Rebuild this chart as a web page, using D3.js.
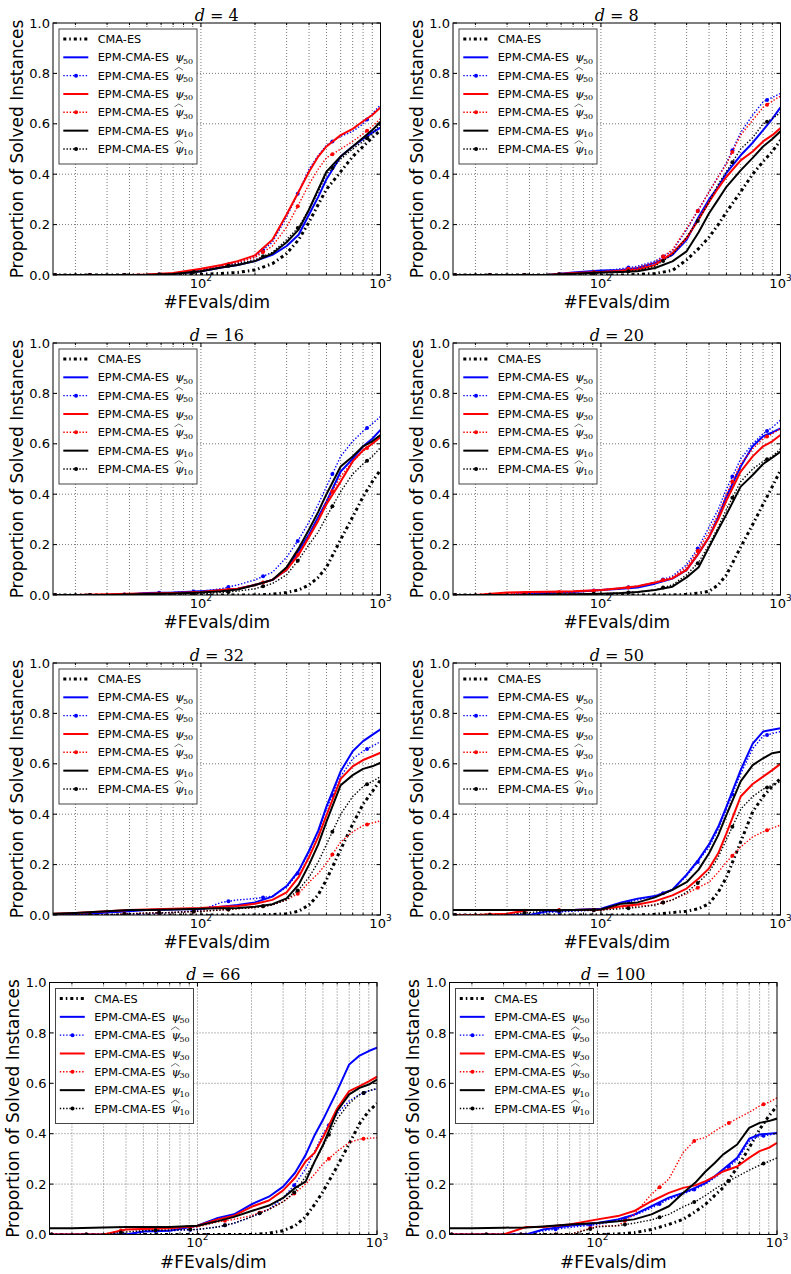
<!DOCTYPE html>
<html>
<head>
<meta charset="utf-8">
<script src="https://cdn.jsdelivr.net/npm/d3@7"></script>
<style>
  body { margin: 0; background: #fff; }
  svg { display: block; }
</style>
</head>
<body>
<svg id="chart" width="791" height="1274"></svg>
<script>
// FEvals/dim sample points shared by all curves
const fevals = [15, 20, 30, 40, 50, 70, 100, 130, 160, 200, 250, 300, 350, 400, 450, 500, 600, 700, 800, 900, 1000];

// one panel per problem dimension
const dims = [4, 8, 16, 20, 32, 50, 66, 100];

// proportion of solved instances, one row per panel (same order as dims)
const cmaEs = [
  [0,0,0,0,0,0,0.003,0.006,0.01,0.02,0.045,0.085,0.14,0.21,0.28,0.34,0.41,0.47,0.51,0.545,0.575],
  [0,0,0,0,0,0,0,0,0.002,0.006,0.018,0.06,0.105,0.15,0.2,0.25,0.33,0.4,0.45,0.49,0.535],
  [0,0,0,0,0,0,0,0,0,0,0.003,0.01,0.02,0.04,0.07,0.11,0.22,0.31,0.39,0.45,0.496],
  [0,0,0,0,0,0,0,0,0,0,0,0.002,0.008,0.015,0.04,0.08,0.19,0.28,0.36,0.43,0.495],
  [0,0,0,0,0,0,0,0,0,0,0.002,0.005,0.015,0.04,0.08,0.14,0.26,0.36,0.44,0.49,0.536],
  [0,0,0,0,0,0,0,0,0,0.002,0.01,0.015,0.025,0.045,0.09,0.15,0.29,0.41,0.47,0.51,0.542],
  [0,0,0,0,0,0,0,0,0,0,0.005,0.015,0.035,0.07,0.12,0.17,0.27,0.36,0.44,0.49,0.52],
  [0,0,0,0,0,0,0,0.002,0.007,0.02,0.04,0.06,0.09,0.12,0.155,0.185,0.265,0.344,0.417,0.47,0.51]
];
const psi50 = [
  [0,0,0,0,0,0.005,0.015,0.03,0.04,0.055,0.08,0.115,0.16,0.24,0.31,0.38,0.47,0.51,0.54,0.565,0.585],
  [0,0,0,0,0,0.01,0.018,0.02,0.028,0.048,0.08,0.14,0.23,0.3,0.35,0.405,0.475,0.525,0.575,0.62,0.665],
  [0,0,0,0.003,0.008,0.01,0.015,0.02,0.025,0.04,0.06,0.1,0.175,0.24,0.31,0.37,0.49,0.54,0.59,0.62,0.655],
  [0,0,0,0.005,0.008,0.012,0.02,0.025,0.03,0.045,0.065,0.1,0.165,0.23,0.31,0.39,0.51,0.59,0.63,0.645,0.661],
  [0,0,0.01,0.015,0.02,0.022,0.025,0.033,0.04,0.05,0.073,0.115,0.175,0.255,0.335,0.43,0.57,0.65,0.69,0.715,0.737],
  [0,0,0,0,0.015,0.02,0.025,0.05,0.065,0.075,0.1,0.16,0.22,0.28,0.35,0.43,0.575,0.68,0.728,0.735,0.741],
  [0,0,0,0,0.012,0.015,0.035,0.066,0.08,0.12,0.15,0.19,0.245,0.315,0.395,0.455,0.57,0.675,0.71,0.728,0.741],
  [0,0,0,0,0.02,0.035,0.046,0.06,0.079,0.112,0.146,0.165,0.185,0.205,0.231,0.258,0.304,0.38,0.397,0.4,0.403]
];
const psi50Hat = [
  [0,0,0,0,0,0.005,0.02,0.035,0.05,0.072,0.13,0.23,0.33,0.42,0.475,0.515,0.55,0.57,0.6,0.64,0.675],
  [0,0,0,0,0,0.008,0.015,0.025,0.035,0.055,0.095,0.18,0.26,0.33,0.39,0.445,0.565,0.635,0.687,0.705,0.72],
  [0,0,0,0.003,0.008,0.01,0.015,0.025,0.04,0.06,0.09,0.15,0.22,0.29,0.36,0.43,0.55,0.61,0.65,0.68,0.708],
  [0,0,0,0.005,0.008,0.012,0.02,0.028,0.035,0.05,0.075,0.12,0.19,0.27,0.34,0.42,0.54,0.6,0.64,0.665,0.694],
  [0,0,0,0,0.005,0.01,0.02,0.05,0.06,0.065,0.075,0.11,0.17,0.25,0.33,0.42,0.55,0.62,0.65,0.67,0.688],
  [0,0,0,0,0.01,0.015,0.02,0.045,0.06,0.075,0.1,0.155,0.215,0.27,0.34,0.42,0.56,0.66,0.71,0.72,0.728],
  [0,0,0,0,0.012,0.015,0.02,0.03,0.045,0.07,0.1,0.145,0.2,0.26,0.33,0.4,0.48,0.53,0.555,0.57,0.578],
  [0,0,0,0,0.015,0.028,0.04,0.055,0.075,0.105,0.14,0.16,0.18,0.2,0.225,0.25,0.295,0.37,0.39,0.395,0.4]
];
const psi30 = [
  [0,0,0,0,0.002,0.008,0.025,0.04,0.055,0.078,0.14,0.24,0.33,0.41,0.47,0.51,0.555,0.58,0.61,0.635,0.665],
  [0,0,0,0,0,0.008,0.012,0.016,0.022,0.04,0.087,0.147,0.22,0.29,0.345,0.39,0.455,0.49,0.53,0.555,0.583],
  [0,0,0.003,0.005,0.006,0.008,0.012,0.02,0.025,0.04,0.06,0.1,0.16,0.23,0.295,0.36,0.45,0.53,0.575,0.6,0.628],
  [0,0,0.01,0.012,0.013,0.015,0.02,0.028,0.035,0.05,0.066,0.1,0.165,0.23,0.3,0.375,0.49,0.55,0.59,0.61,0.635],
  [0.005,0.008,0.015,0.02,0.022,0.025,0.028,0.033,0.036,0.045,0.06,0.09,0.15,0.23,0.31,0.395,0.54,0.59,0.615,0.63,0.644],
  [0,0,0.005,0.02,0.02,0.02,0.022,0.035,0.042,0.055,0.078,0.105,0.145,0.185,0.245,0.324,0.47,0.52,0.549,0.575,0.6],
  [0,0,0,0.02,0.022,0.025,0.035,0.06,0.075,0.11,0.135,0.175,0.225,0.29,0.325,0.385,0.5,0.569,0.589,0.608,0.626],
  [0,0,0,0.03,0.03,0.04,0.06,0.073,0.093,0.132,0.165,0.185,0.195,0.212,0.231,0.25,0.27,0.304,0.331,0.344,0.364]
];
const psi30Hat = [
  [0,0,0,0,0,0.005,0.02,0.035,0.05,0.07,0.115,0.19,0.28,0.36,0.42,0.465,0.5,0.53,0.56,0.59,0.62],
  [0,0,0,0,0,0.006,0.012,0.02,0.03,0.05,0.1,0.185,0.26,0.33,0.39,0.44,0.555,0.615,0.665,0.69,0.71],
  [0,0,0,0.003,0.005,0.007,0.01,0.018,0.025,0.04,0.06,0.1,0.165,0.235,0.3,0.37,0.47,0.53,0.57,0.6,0.625],
  [0,0,0.005,0.008,0.01,0.012,0.018,0.025,0.035,0.05,0.07,0.11,0.18,0.25,0.32,0.4,0.52,0.58,0.62,0.64,0.66],
  [0,0,0,0.005,0.008,0.01,0.015,0.02,0.025,0.03,0.04,0.06,0.086,0.13,0.165,0.205,0.29,0.33,0.355,0.365,0.374],
  [0,0,0.005,0.02,0.02,0.02,0.02,0.03,0.035,0.04,0.06,0.085,0.11,0.13,0.17,0.21,0.27,0.31,0.33,0.345,0.357],
  [0,0,0,0.02,0.02,0.025,0.03,0.05,0.06,0.075,0.1,0.13,0.165,0.2,0.24,0.28,0.33,0.365,0.378,0.382,0.384],
  [0,0,0,0,0,0,0.033,0.035,0.08,0.16,0.22,0.325,0.375,0.385,0.41,0.43,0.46,0.485,0.51,0.525,0.542]
];
const psi10 = [
  [0,0,0,0,0,0.004,0.015,0.03,0.04,0.055,0.085,0.13,0.18,0.26,0.34,0.41,0.47,0.51,0.545,0.575,0.608],
  [0,0,0,0,0,0.005,0.01,0.012,0.015,0.028,0.054,0.094,0.17,0.245,0.3,0.35,0.415,0.465,0.51,0.54,0.57],
  [0,0,0,0.002,0.004,0.006,0.01,0.015,0.022,0.04,0.06,0.11,0.185,0.26,0.33,0.4,0.51,0.55,0.59,0.61,0.635],
  [0,0,0,0,0.002,0.003,0.005,0.008,0.012,0.02,0.033,0.07,0.11,0.19,0.26,0.32,0.43,0.476,0.52,0.545,0.569],
  [0.005,0.008,0.015,0.02,0.02,0.022,0.025,0.027,0.028,0.033,0.043,0.066,0.12,0.2,0.28,0.37,0.515,0.555,0.58,0.59,0.604],
  [0.02,0.02,0.02,0.02,0.02,0.02,0.022,0.045,0.05,0.07,0.1,0.13,0.18,0.245,0.317,0.397,0.53,0.595,0.622,0.642,0.648],
  [0.025,0.025,0.028,0.03,0.03,0.03,0.035,0.053,0.07,0.093,0.115,0.145,0.185,0.21,0.29,0.355,0.49,0.556,0.582,0.595,0.615],
  [0.025,0.025,0.027,0.028,0.032,0.04,0.046,0.053,0.06,0.08,0.112,0.165,0.205,0.25,0.284,0.317,0.357,0.423,0.443,0.45,0.46]
];
const psi10Hat = [
  [0,0,0,0,0,0.004,0.015,0.03,0.045,0.06,0.09,0.14,0.19,0.26,0.33,0.4,0.46,0.5,0.53,0.56,0.6],
  [0,0,0,0,0,0.004,0.008,0.012,0.018,0.035,0.08,0.15,0.22,0.29,0.36,0.41,0.5,0.545,0.6,0.62,0.645],
  [0,0,0,0,0.002,0.004,0.005,0.01,0.015,0.025,0.045,0.08,0.14,0.2,0.25,0.31,0.41,0.48,0.52,0.55,0.585],
  [0,0,0,0,0.002,0.003,0.005,0.008,0.012,0.02,0.04,0.08,0.13,0.2,0.27,0.34,0.45,0.5,0.53,0.55,0.58],
  [0,0,0,0.005,0.008,0.01,0.015,0.02,0.025,0.03,0.04,0.06,0.1,0.15,0.21,0.28,0.4,0.47,0.51,0.53,0.549],
  [0,0,0,0.01,0.015,0.018,0.02,0.025,0.03,0.04,0.06,0.09,0.13,0.17,0.23,0.3,0.42,0.47,0.5,0.515,0.529],
  [0,0,0,0.01,0.015,0.018,0.02,0.03,0.045,0.07,0.1,0.13,0.17,0.23,0.29,0.35,0.46,0.52,0.555,0.57,0.58],
  [0,0,0,0,0,0,0.03,0.035,0.045,0.058,0.08,0.11,0.13,0.155,0.18,0.2,0.23,0.255,0.275,0.29,0.304]
];

const yTicks = [0, 0.2, 0.4, 0.6, 0.8, 1.0];
const xMajor = [100, 1000];
const xMinor = [20, 30, 40, 50, 60, 70, 80, 90, 200, 300, 400, 500, 600, 700, 800, 900];

// how each series is drawn (legend order = drawing order)
const series = [
  { label: 'CMA-ES', sub: '', hat: false, color: '#000000', width: 3, dash: '3,3,1.5,3', marker: false, values: cmaEs },
  { label: 'EPM-CMA-ES', sub: '50', hat: false, color: '#0000ff', width: 2, dash: null, marker: false, values: psi50 },
  { label: 'EPM-CMA-ES', sub: '50', hat: true, color: '#0000ff', width: 1.4, dash: '1.4,1.8', marker: true, values: psi50Hat },
  { label: 'EPM-CMA-ES', sub: '30', hat: false, color: '#ff0000', width: 2, dash: null, marker: false, values: psi30 },
  { label: 'EPM-CMA-ES', sub: '30', hat: true, color: '#ff0000', width: 1.4, dash: '1.4,1.8', marker: true, values: psi30Hat },
  { label: 'EPM-CMA-ES', sub: '10', hat: false, color: '#000000', width: 2, dash: null, marker: false, values: psi10 },
  { label: 'EPM-CMA-ES', sub: '10', hat: true, color: '#000000', width: 1.4, dash: '1.4,1.8', marker: true, values: psi10Hat }
];

const svg = d3.select('#chart');
const W = 327.5, H = 252;
const colLeft = [53, 453];
const rowTop = [23, 343, 663, 982.5];
const rowShift = [0, 0, 0, -3.5];
const sans = "'DejaVu Sans', 'Bitstream Vera Sans', sans-serif";
const serif = "'DejaVu Serif', 'Liberation Serif', serif";

const x = d3.scaleLog().domain([15, 1000]).range([0, W]);
const y = d3.scaleLinear().domain([0, 1]).range([H, 0]);

const line = d3.line()
    .x((d, i) => x(fevals[i]))
    .y(d => y(d));

// marker positions along the dotted curves (evenly spaced on the log axis)
const markerX = d3.range(0, 10).map(k => Math.pow(10, 2.925 - 0.193 * k)).filter(v => v >= 15);

function valueAt(vals, xv) {
    const lx = Math.log10(xv);
    for (let i = 0; i < fevals.length - 1; i++) {
        const a = Math.log10(fevals[i]), b = Math.log10(fevals[i + 1]);
        if (lx >= a && lx <= b) {
            const t = (lx - a) / (b - a);
            return vals[i] + t * (vals[i + 1] - vals[i]);
        }
    }
    return vals[vals.length - 1];
}

dims.forEach(function (dim, p) {
    const r = Math.floor(p / 2), c = p % 2;
    const left = colLeft[c] + rowShift[r];
    const top = rowTop[r];
    const g = svg.append('g').attr('transform', `translate(${left},${top})`);

    // grid
    const grid = g.append('g')
        .attr('stroke', '#555')
        .attr('stroke-width', 0.8)
        .attr('stroke-dasharray', '1,2');
    grid.selectAll('line.vx')
        .data(xMinor.concat([100]))
        .enter().append('line')
        .attr('x1', d => x(d)).attr('x2', d => x(d))
        .attr('y1', 0).attr('y2', H);
    grid.selectAll('line.hy')
        .data(yTicks.slice(1, -1))
        .enter().append('line')
        .attr('x1', 0).attr('x2', W)
        .attr('y1', d => y(d)).attr('y2', d => y(d));

    // curves
    const clipId = 'clip' + p;
    g.append('clipPath').attr('id', clipId)
        .append('rect').attr('x', 0).attr('y', 0).attr('width', W).attr('height', H);
    const plot = g.append('g').attr('clip-path', `url(#${clipId})`);

    series.forEach(function (s) {
        const vals = s.values[p];
        plot.append('path')
            .attr('d', line(vals))
            .attr('fill', 'none')
            .attr('stroke', s.color)
            .attr('stroke-width', s.width)
            .attr('stroke-dasharray', s.dash)
            .attr('stroke-linejoin', 'round');
        if (s.marker) {
            plot.selectAll(null)
                .data(markerX)
                .enter().append('circle')
                .attr('cx', d => x(d))
                .attr('cy', d => y(valueAt(vals, d)))
                .attr('r', 2)
                .attr('fill', s.color);
        }
    });

    // frame
    g.append('rect')
        .attr('width', W).attr('height', H)
        .attr('fill', 'none').attr('stroke', '#000').attr('stroke-width', 1);

    // ticks (inside, on all four sides)
    const ticks = g.append('g').attr('stroke', '#000').attr('stroke-width', 1);
    yTicks.forEach(function (v) {
        ticks.append('line').attr('x1', 0).attr('x2', 4).attr('y1', y(v)).attr('y2', y(v));
        ticks.append('line').attr('x1', W - 4).attr('x2', W).attr('y1', y(v)).attr('y2', y(v));
    });
    xMajor.concat(xMinor).forEach(function (v) {
        const len = xMajor.includes(v) ? 4 : 2;
        ticks.append('line').attr('x1', x(v)).attr('x2', x(v)).attr('y1', H).attr('y2', H - len);
        ticks.append('line').attr('x1', x(v)).attr('x2', x(v)).attr('y1', 0).attr('y2', len);
    });

    // tick labels
    g.append('g').selectAll('text')
        .data(yTicks)
        .enter().append('text')
        .attr('x', -3)
        .attr('y', d => y(d))
        .attr('dy', '0.36em')
        .attr('text-anchor', 'end')
        .attr('font-family', sans)
        .attr('font-size', 13)
        .text(d => d3.format('.1f')(d));
    xMajor.forEach(function (v) {
        const t = g.append('text')
            .attr('x', x(v))
            .attr('y', H + 12.5)
            .attr('text-anchor', 'middle')
            .attr('font-family', sans)
            .attr('font-size', 13);
        t.append('tspan').text('10');
        t.append('tspan').attr('dy', -7).attr('font-size', 9).text(String(Math.round(Math.log10(v))));
    });

    // title
    const title = g.append('text')
        .attr('x', W / 2)
        .attr('y', -2.5)
        .attr('text-anchor', 'middle')
        .attr('font-family', serif)
        .attr('font-size', 16);
    title.append('tspan').attr('font-style', 'italic').text('d');
    title.append('tspan').text(' = ' + dim);

    // axis labels
    g.append('text')
        .attr('x', W / 2)
        .attr('y', H + 33)
        .attr('text-anchor', 'middle')
        .attr('font-family', sans)
        .attr('font-size', 17)
        .text('#FEvals/dim');
    g.append('text')
        .attr('transform', `translate(-30.5,${H / 2}) rotate(-90)`)
        .attr('text-anchor', 'middle')
        .attr('font-family', sans)
        .attr('font-size', 17)
        .text('Proportion of Solved Instances');

    // legend
    const lg = g.append('g').attr('transform', 'translate(6,6)');
    lg.append('rect')
        .attr('width', 138).attr('height', 135)
        .attr('fill', '#fff').attr('stroke', '#444').attr('stroke-width', 1);
    series.forEach(function (s, i) {
        const cy = 10 + i * 18.33;
        lg.append('line')
            .attr('x1', 4.3).attr('x2', 29.3)
            .attr('y1', cy).attr('y2', cy)
            .attr('stroke', s.color)
            .attr('stroke-width', s.width)
            .attr('stroke-dasharray', s.dash);
        if (s.marker) {
            lg.append('circle').attr('cx', 17).attr('cy', cy).attr('r', 2).attr('fill', s.color);
        }
        lg.append('text')
            .attr('x', 38.7)
            .attr('y', cy + 4.1)
            .attr('font-family', sans)
            .attr('font-size', 11.3)
            .text(s.label);
        if (s.sub) {
            lg.append('text')
                .attr('x', 116)
                .attr('y', cy + 4)
                .attr('font-family', serif)
                .attr('font-style', 'italic')
                .attr('font-size', 11.5)
                .text('\u03c8');
            lg.append('text')
                .attr('x', 124)
                .attr('y', cy + 6.5)
                .attr('font-family', serif)
                .attr('font-size', 8)
                .text(s.sub);
            if (s.hat) {
                lg.append('path')
                    .attr('d', `M115.5,${cy - 5.5} L119.8,${cy - 8.3} L124,${cy - 5.5}`)
                    .attr('fill', 'none')
                    .attr('stroke', '#333')
                    .attr('stroke-width', 0.7);
            }
        }
    });
});
</script>
</body>
</html>
